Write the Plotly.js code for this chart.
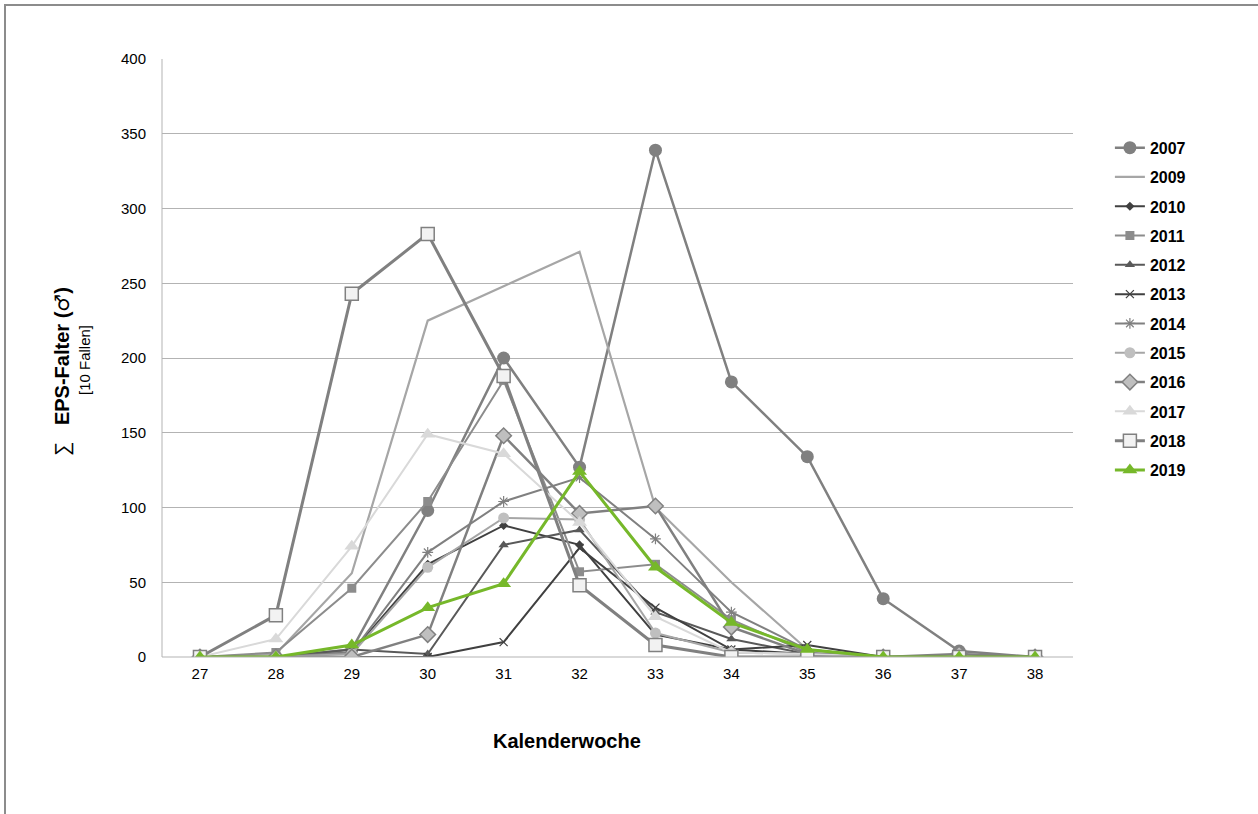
<!DOCTYPE html>
<html>
<head>
<meta charset="utf-8">
<script src="https://cdn.plot.ly/plotly-3.0.1.min.js"></script>
<style>
  html, body { margin: 0; padding: 0; background: #fff; }
  #topline { position: absolute; left: 4px; top: 4px; width: 1254px; height: 2px; background: #8c8c8c; }
  #leftline { position: absolute; left: 4px; top: 4px; width: 2px; height: 810px; background: #8c8c8c; }
  #chart { position: absolute; left: 0; top: 0; width: 1258px; height: 814px; }
</style>
</head>
<body>
<div id="topline"></div>
<div id="leftline"></div>
<div id="chart"></div>
<script>
const weeks = [27, 28, 29, 30, 31, 32, 33, 34, 35, 36, 37, 38];
const years = ["2007", "2009", "2010", "2011", "2012", "2013", "2014", "2015", "2016", "2017", "2018", "2019"];
const v2007 = [0, 0, 5, 98, 200, 127, 339, 184, 134, 39, 4, 0];
const v2009 = [0, 2, 56, 225, 248, 271, 100, 50, 5, 0, 0, 0];
const v2010 = [0, 0, 3, 62, 88, 75, 15, 5, 2, 0, 0, 0];
const v2011 = [0, 3, 46, 104, 185, 57, 62, 25, 3, 0, 0, 0];
const v2012 = [0, 0, 5, 2, 75, 85, 30, 12, 2, 0, 0, 0];
const v2013 = [0, 0, 0, 0, 10, 73, 33, 5, 8, 0, 0, 0];
const v2014 = [0, 0, 3, 70, 104, 120, 79, 30, 5, 0, 0, 0];
const v2015 = [0, 0, 2, 60, 93, 92, 16, 3, 2, 0, 0, 0];
const v2016 = [0, 0, 0, 15, 148, 96, 101, 20, 2, 0, 2, 0];
const v2017 = [0, 12, 74, 149, 136, 90, 27, 3, 2, 0, 0, 0];
const v2018 = [0, 28, 243, 283, 188, 48, 8, 0, 0, 0, 0, 0];
const v2019 = [0, 0, 8, 33, 49, 124, 60, 23, 5, 0, 0, 0];
const seriesValues = [v2007, v2009, v2010, v2011, v2012, v2013, v2014, v2015, v2016, v2017, v2018, v2019];
const yTicks = [0, 50, 100, 150, 200, 250, 300, 350, 400];

const styles = [
  {color: '#808080', width: 2.5, marker: {symbol: 'circle', size: 13, color: '#808080'}},
  {color: '#A6A6A6', width: 2.2, marker: null},
  {color: '#404040', width: 2, marker: {symbol: 'diamond', size: 7, color: '#404040'}},
  {color: '#8C8C8C', width: 2, marker: {symbol: 'square', size: 9, color: '#8C8C8C'}},
  {color: '#595959', width: 2, marker: {symbol: 'triangle-up', size: 9, color: '#595959'}},
  {color: '#404040', width: 2, marker: {symbol: 'x-thin-open', size: 8, color: '#404040', line: {color: '#404040', width: 1.2}}},
  {color: '#808080', width: 2, marker: {symbol: 'asterisk-open', size: 9, color: '#808080', line: {color: '#808080', width: 1.2}}},
  {color: '#A6A6A6', width: 2, marker: {symbol: 'circle', size: 11, color: '#BFBFBF'}},
  {color: '#808080', width: 2.5, marker: {symbol: 'diamond', size: 12, color: '#BFBFBF', line: {color: '#808080', width: 1.5}}},
  {color: '#D9D9D9', width: 2, marker: {symbol: 'triangle-up', size: 13, color: '#D9D9D9'}},
  {color: '#808080', width: 3, marker: {symbol: 'square', size: 13, color: '#F2F2F2', line: {color: '#808080', width: 1.5}}},
  {color: '#76B82A', width: 3, marker: {symbol: 'triangle-up', size: 13, color: '#76B82A'}}
];

const traces = years.map((yr, i) => {
  const s = styles[i];
  const t = {
    x: weeks, y: seriesValues[i], name: yr, type: 'scatter',
    mode: s.marker ? 'lines+markers' : 'lines',
    line: {color: s.color, width: s.width},
    legendgroup: yr
  };
  if (s.marker) t.marker = s.marker;
  return t;
});

const FONT = 'Liberation Sans, Arial, sans-serif';

const layout = {
  width: 1258, height: 814,
  paper_bgcolor: 'rgba(0,0,0,0)', plot_bgcolor: 'rgba(0,0,0,0)',
  margin: {l: 162, r: 185, t: 59, b: 157},
  font: {family: FONT, color: '#000'},
  showlegend: true,
  legend: {
    x: 1.0405, xanchor: 'left', y: 0.88, yanchor: 'top',
    font: {size: 16, family: FONT, color: '#000', weight: 'bold'},
    tracegroupgap: 5.5, traceorder: 'grouped', itemwidth: 30
  },
  xaxis: {
    range: [26.5, 38.5], tickmode: 'array', tickvals: weeks, ticktext: weeks.map(String),
    showgrid: false, zeroline: false, showline: false, ticks: '',
    tickfont: {size: 15, color: '#000'}, ticklabelstandoff: 6
  },
  yaxis: {
    range: [0, 400], tickmode: 'array', tickvals: yTicks, ticktext: yTicks.map(String),
    showgrid: true, gridcolor: '#B3B3B3', gridwidth: 1, zeroline: false, showline: false, ticks: '',
    tickfont: {size: 15, color: '#000'}, ticklabelstandoff: 15
  },
  shapes: [
    {type: 'line', xref: 'paper', yref: 'paper', x0: 0, x1: 1, y0: 0, y1: 0, line: {color: '#B3B3B3', width: 1}},
    {type: 'line', xref: 'paper', yref: 'paper', x0: 0, x1: 0, y0: 0, y1: 1, line: {color: '#B3B3B3', width: 1}}
  ],
  annotations: [
    {text: '<b>Kalenderwoche</b>', xref: 'paper', yref: 'paper', x: (567 - 162) / 911, y: (657 - 741) / 598,
     showarrow: false, font: {size: 20, color: '#000'}, xanchor: 'center', yanchor: 'middle'},
    {text: '∑   <b>EPS-Falter (<span style="font-family:DejaVu Sans;font-weight:normal">♂</span>)</b>', xref: 'paper', yref: 'paper', x: (62 - 162) / 911, y: (657 - 372) / 598, textangle: -90,
     showarrow: false, font: {size: 20, color: '#000'}, xanchor: 'center', yanchor: 'middle'},
    {text: '[10 Fallen]', xref: 'paper', yref: 'paper', x: (84 - 162) / 911, y: (657 - 360) / 598, textangle: -90,
     showarrow: false, font: {size: 15, color: '#000'}, xanchor: 'center', yanchor: 'middle'}
  ]
};

Plotly.newPlot('chart', traces, layout, {displayModeBar: false, staticPlot: true});
</script>
</body>
</html>
